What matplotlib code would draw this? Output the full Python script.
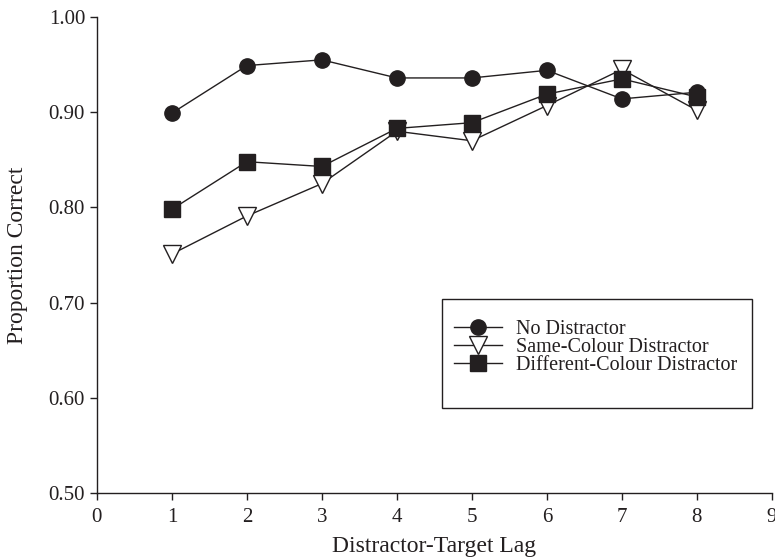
import matplotlib
matplotlib.use("Agg")
import matplotlib.pyplot as plt
from matplotlib.patches import Rectangle
from matplotlib.ticker import FormatStrFormatter

lags = [1, 2, 3, 4, 5, 6, 7, 8]
no_distractor = [0.899, 0.949, 0.955, 0.936, 0.936, 0.944, 0.914, 0.921]
same_colour = [0.751, 0.791, 0.825, 0.880, 0.870, 0.907, 0.945, 0.902]
diff_colour = [0.798, 0.848, 0.843, 0.883, 0.889, 0.919, 0.935, 0.916]

plt.rcParams["font.family"] = ["Liberation Serif", "DejaVu Serif"]
ink = "#231f20"

fig = plt.figure(figsize=(7.75, 5.58), dpi=100)
ax = fig.add_axes([0.125, 0.1165, 0.871, 0.853])

ax.plot(lags, no_distractor, color=ink, lw=1, marker="o", ms=11,
        mfc=ink, mec=ink, label="No Distractor")
ax.plot(lags, same_colour, color=ink, lw=1, marker="v", ms=13,
        mfc="white", mec=ink, mew=1, label="Same-Colour Distractor")
ax.plot(lags, diff_colour, color=ink, lw=1, marker="s", ms=11,
        mfc=ink, mec=ink, label="Different-Colour Distractor")

ax.set_xlim(0, 9)
ax.set_ylim(0.5, 1.0)
ax.set_xticks(range(10))
ax.set_yticks([0.5, 0.6, 0.7, 0.8, 0.9, 1.0])
ax.yaxis.set_major_formatter(FormatStrFormatter("%.2f"))
ax.tick_params(direction="out", length=5, width=1, labelsize=15, colors=ink)
ax.tick_params(axis="x", pad=6)

for side in ["top", "right"]:
    ax.spines[side].set_visible(False)
for side in ["left", "bottom"]:
    ax.spines[side].set_color(ink)
    ax.spines[side].set_linewidth(1)

ax.set_xlabel("Distractor-Target Lag", fontsize=17, color=ink, labelpad=6)
ax.set_ylabel("Proportion Correct", fontsize=17, color=ink, labelpad=15)

# legend box drawn separately so the padding matches the original
ax.add_patch(Rectangle((0.511, 0.179), 0.459, 0.229, transform=ax.transAxes,
                       fill=False, edgecolor=ink, lw=1, zorder=5))
leg = ax.legend(loc="upper left", bbox_to_anchor=(0.529, 0.364), fontsize=14.5,
                frameon=False, handlelength=2.4, handletextpad=0.7,
                borderpad=0, borderaxespad=0, labelspacing=-0.05)
for t in leg.get_texts():
    t.set_color(ink)

plt.savefig("out.png", dpi=100)
